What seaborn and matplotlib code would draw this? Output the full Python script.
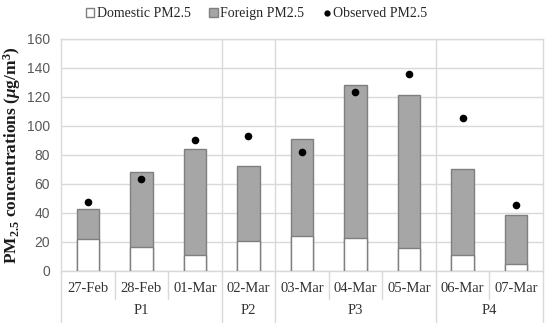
import numpy as np
import pandas as pd
import matplotlib
matplotlib.use("Agg")
import matplotlib.pyplot as plt
import seaborn as sns
from matplotlib.patches import Patch
from matplotlib.lines import Line2D

# data
dates = ["27-Feb", "28-Feb", "01-Mar", "02-Mar", "03-Mar", "04-Mar", "05-Mar", "06-Mar", "07-Mar"]
periods = ["P1", "P2", "P3", "P4"]
period_sizes = [3, 1, 3, 2]
domestic = [22.3, 16.3, 11.2, 20.9, 24.3, 22.7, 15.6, 11.2, 5.0]
foreign = [20.6, 51.6, 72.6, 51.4, 66.8, 105.6, 105.3, 59.0, 33.6]
observed = [47.5, 63.3, 90.4, 93.2, 82.2, 123.0, 135.4, 105.1, 45.7]

df = pd.DataFrame({"date": dates, "domestic": domestic, "foreign": foreign,
                   "observed": observed})
df["total"] = df["domestic"] + df["foreign"]

sns.set_theme(style="white")
plt.rcParams["font.family"] = ["Liberation Serif", "DejaVu Serif"]
plt.rcParams["mathtext.fontset"] = "custom"
plt.rcParams["mathtext.rm"] = "Liberation Serif:bold"
plt.rcParams["mathtext.bf"] = "Liberation Serif:bold"
plt.rcParams["mathtext.it"] = "Liberation Serif:italic:bold"

fig = plt.figure(figsize=(5.5, 3.3), dpi=100)
ax = fig.add_axes([0.111, 0.179, 0.876, 0.704])

grid_c = "#d9d9d9"
edge_c = "#7f7f7f"
bw = 0.42

sns.barplot(data=df, x="date", y="total", color="#a6a6a6", width=bw,
            edgecolor=edge_c, linewidth=1.0, saturation=1, ax=ax, zorder=2)
sns.barplot(data=df, x="date", y="domestic", color="white", width=bw,
            edgecolor=edge_c, linewidth=1.0, saturation=1, ax=ax, zorder=3)
sns.stripplot(data=df, x="date", y="observed", jitter=False, color="black",
              size=5.5, ax=ax, zorder=4)

ax.set_xlim(-0.5, len(dates) - 0.5)
ax.set_ylim(0, 160)
ax.set_yticks(np.arange(0, 161, 20))
ax.yaxis.grid(True, color=grid_c, linewidth=1.0, zorder=0)
ax.set_axisbelow(True)
for s in ax.spines.values():
    s.set_color(grid_c)
    s.set_linewidth(1.0)
ax.tick_params(axis="y", length=0, pad=8, labelsize=10, labelcolor="#595959")
for lab in ax.get_yticklabels():
    lab.set_family(["Liberation Sans", "DejaVu Sans"])
ax.set_xticks([])
ax.set_xlabel("")
ax.set_ylabel(r"PM$_{2.5}$ concentrations (${\mu}$g/m$^{3}$)",
              fontsize=12.5, fontweight="bold", color="#1a1a1a", labelpad=3)

# group separators inside the plot and the two-row category axis below
trans = ax.get_xaxis_transform()
bounds = np.cumsum(period_sizes)
starts = np.concatenate([[0], bounds[:-1]])
for b in bounds[:-1]:
    ax.axvline(b - 0.5, color=grid_c, linewidth=1.0, zorder=1)
for i in range(len(dates) + 1):
    long_line = i == 0 or i in bounds
    y0 = -0.22 if long_line else -0.12
    ax.plot([i - 0.5, i - 0.5], [0, y0], transform=trans, color=grid_c,
            linewidth=1.0, clip_on=False)
for i, d in enumerate(dates):
    ax.text(i, -0.075, d, transform=trans, ha="center", va="center",
            fontsize=10.5, color="#333333")
for p, s0, n in zip(periods, starts, period_sizes):
    ax.text(s0 + (n - 1) / 2, -0.17, p, transform=trans, ha="center",
            va="center", fontsize=10.5, color="#333333")

# legend
handles = [Patch(facecolor="white", edgecolor=edge_c, label="Domestic PM2.5"),
           Patch(facecolor="#a6a6a6", edgecolor=edge_c, label="Foreign PM2.5"),
           Line2D([], [], marker="o", color="black", linestyle="none",
                  markersize=3.5, label="Observed PM2.5")]
fig.legend(handles=handles, loc="center", bbox_to_anchor=(0.467, 0.958), ncol=3,
           frameon=False, fontsize=10, handlelength=0.6, handleheight=0.6,
           handletextpad=0.2, columnspacing=1.3)

fig.savefig("out.png", dpi=100)
